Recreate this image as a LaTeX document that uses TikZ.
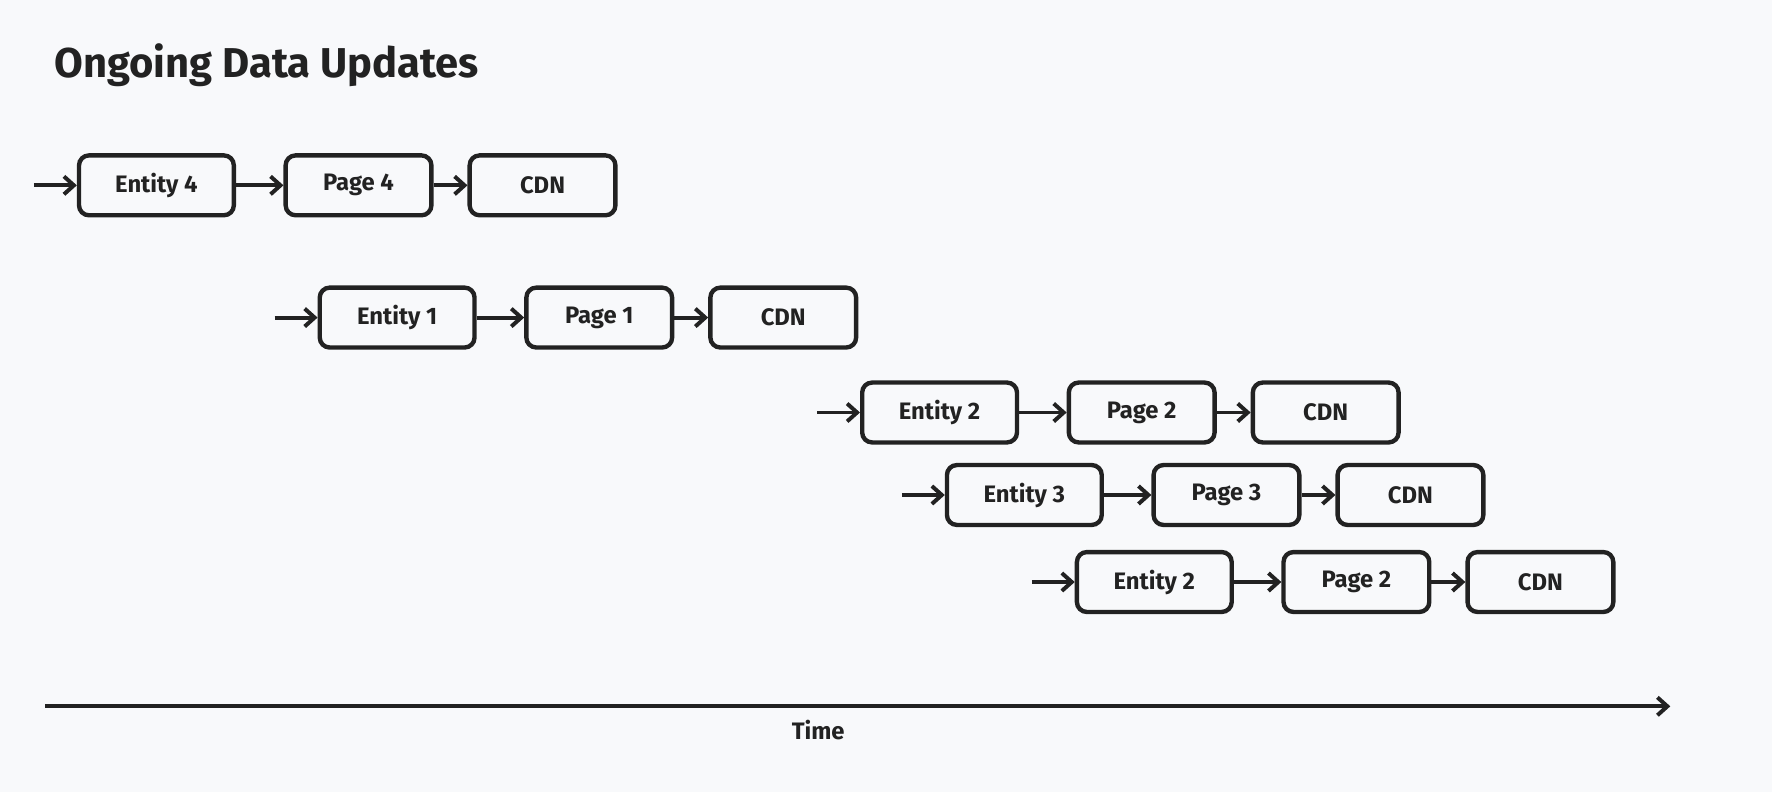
\documentclass[tikz,border=0pt]{standalone}
\usepackage{fontspec}
\setmainfont{Fira Sans}
\usetikzlibrary{arrows.meta}
\usetikzlibrary{positioning}
\definecolor{ink}{HTML}{222222}
\definecolor{paper}{HTML}{F8F9FB}
\tikzset{
	stage/.style={draw=ink, line width=2.2pt, rounded corners=5pt, minimum height=1.06cm, inner sep=0pt, font=\bfseries\fontsize{12}{14}\selectfont, text=ink},
	flow/.style={-{Straight Barb[length=5pt,width=9pt]}, draw=ink, line width=2pt},
}
\begin{document}
\begin{tikzpicture}[
		x={(0.02cm,0)}, y={(0,-0.02cm)},
	]
		\fill[paper] (0,0) rectangle (1568,701);
		\useasboundingbox (0,0) rectangle (1568,701);

		\node (title) [anchor=west, text=ink, font=\bfseries\fontsize{21}{24}\selectfont] at (42,58) {Ongoing Data Updates};

		% one row per update: start x, y, entity label, page label
		\foreach \n/\x/\y/\e/\p in {4/68/164/Entity 4/Page 4, 1/281/281/Entity 1/Page 1, 2/761/365/Entity 2/Page 2, 3/836/438/Entity 3/Page 3, 5/951/515/Entity 2/Page 2} {
			\coordinate (start\n) at (\x-38,\y);
			\node (entity\n) [stage, minimum width=2.74cm, anchor=west] at (\x,\y) {\e};
			\node (page\n) [stage, minimum width=2.58cm, right=0.84cm of entity\n] {\p};
			\node (cdn\n) [stage, minimum width=2.58cm, right=0.6cm of page\n] {CDN};

			\draw[flow] (start\n) -- (entity\n.west);
			\draw[flow] (entity\n) -- (page\n);
			\draw[flow] (page\n) -- (cdn\n);
		}

		\coordinate (axis start) at (40,625);
		\coordinate (axis end) at (1478,625);
		\draw[flow] (axis start) -- (axis end);
		\node (time) [text=ink, font=\bfseries\fontsize{12}{14}\selectfont] at (724,646) {Time};
	\end{tikzpicture}
\end{document}
